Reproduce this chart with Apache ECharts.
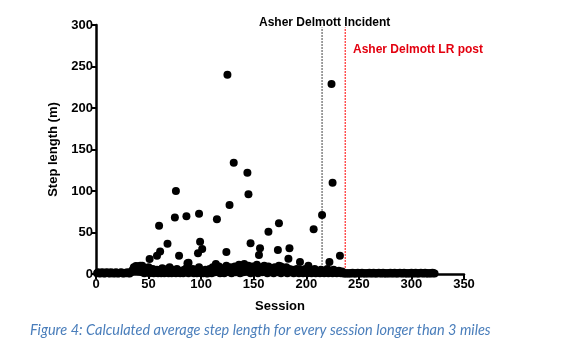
<!DOCTYPE html>
<html><head><meta charset="utf-8">
<script src="https://cdn.jsdelivr.net/npm/echarts@6/dist/echarts.min.js"></script>
<style>html,body{margin:0;padding:0;background:#fff}#c{width:575px;height:360px}</style>
</head><body><div id="c"></div>
<script>
// Baseline step length per session (session = index + 1)
var baseline = [
1,2,1,0.5,1.5,2,1,0.5,1,2,
1.5,1,0.5,2,1,1.5,0.5,1,2,1,
0.5,1,1.5,2,1,0.5,1,1.5,1,2,
1,0.5,2,3,5,8,6,4,9,7,
3,10,5,2,7,1,4,6,2,8,
1,3,2,6,1,4,2,5,1,3,
2,1,7,3,1,4,2,6,1,8,
3,1,5,2,4,1,6,2,3,1,
4,2,1,5,3,7,2,1,4,3,
2,6,1,3,5,1,2,8,4,1,
3,1,2,5,1,0.5,2,6,3,1,
8,4,2,12,6,3,9,1,5,2,
7,1,4,10,3,6,2,8,1,5,
4,9,2,6,3,11,1,7,5,2,
12,4,8,3,10,6,1,5,9,2,
6,3,11,1,7,4,8,2,5,10,
3,6,1,9,4,2,7,5,1,8,
3,6,2,10,4,1,7,3,5,2,
8,1,4,6,2,3,5,1,4,2,
6,3,1,5,2,4,1,3,6,2,
1,4,2,5,1,3,2,6,1,4,
2,3,1,5,2,4,1,3,2,6,
1,3,2,4,1,5,2,3,1,2,
4,2,1,3,1,0.5,1,0.5,1,0.5,
1,0.5,1,1.5,0.5,1,0.5,1,1.5,1,
0.5,1,1.5,0.5,1,0.5,1,1,0.5,1.5,
1,0.5,1,1.5,0.5,1,0.5,1,1.5,1,
0.5,1,1.5,0.5,1,0.5,1,1,0.5,1.5,
1,0.5,1,1.5,0.5,1,0.5,1,1.5,1,
0.5,1,1.5,0.5,1,0.5,1,1,0.5,1.5,
1,0.5,1,1.5,0.5,1,0.5,1,1.5,1,
0.5,1,1.5,0.5,1,0.5,1,1,0.5,1.5,
1,0.5
];
// Higher sessions [session, step length]
var highPoints = [
[38,9.6],[44,10],[51,18],[58,22],[60,58],[61,27],[68,36.5],[75,68],[76,100],[79,22],[86,69.5],[87,13],[88,13.6],
[97,25],[98,72.6],[99,39],[101,30],[115,66],[124,26.5],[125,240],[127,83],[131,134],[144,122],[145,96],[147,37],
[155,23],[156,31],[164,51],[173,29],[174,61],[176,9],[183,18.5],[184,31],[194,14.5],[202,10],[207,54],[215,71],
[222,14.5],[224,229],[225,110],[232,22]
];
var incidentSession = 215;
var lrPostSession = 237;
var lineTop = 297;
var xTicks = [0, 350, 50];
var yTicks = [0, 300, 50];

var basePoints = baseline.map(function(v, i){ return [i + 1, v]; });
var allPoints = basePoints.concat(highPoints);

var chart = echarts.init(document.getElementById('c'));
var FF = '"Liberation Sans", Arial, sans-serif';
var axisFont = {fontFamily:FF, fontWeight:'bold', fontSize:13, color:'#000'};
chart.setOption({
  animation:false,
  grid:{left:96, right:111, top:25, bottom:86},
  xAxis:{
    type:'value', min:xTicks[0], max:xTicks[1], interval:xTicks[2],
    name:'Session', nameLocation:'middle', nameGap:26,
    nameTextStyle:{fontFamily:FF, fontWeight:'bold', fontSize:13, color:'#000'},
    axisLine:{lineStyle:{color:'#000', width:2.5}},
    axisTick:{length:5, lineStyle:{color:'#000', width:2}},
    axisLabel:Object.assign({margin:4}, axisFont),
    splitLine:{show:false}
  },
  yAxis:{
    type:'value', min:yTicks[0], max:yTicks[1], interval:yTicks[2],
    name:'Step length (m)', nameLocation:'middle', nameGap:34,
    nameTextStyle:{fontFamily:FF, fontWeight:'bold', fontSize:13, color:'#000'},
    axisLine:{lineStyle:{color:'#000', width:2.5}},
    axisTick:{length:5, lineStyle:{color:'#000', width:2}},
    axisLabel:Object.assign({margin:3}, axisFont),
    splitLine:{show:false}
  },
  series:[{
    type:'line', data:[[incidentSession,0],[incidentSession,lineTop]], symbol:'none', silent:true, z:1,
    lineStyle:{color:'#444444', type:[2,1], width:1}
  },{
    type:'line', data:[[lrPostSession,0],[lrPostSession,lineTop]], symbol:'none', silent:true, z:1,
    lineStyle:{color:'#ff0000', type:[2,1], width:1}
  },{
    type:'scatter', data:allPoints, symbolSize:8, z:3,
    itemStyle:{color:'#000', opacity:1}
  }],
  graphic:[
    {type:'text', left:259, top:17, style:{text:'Asher Delmott Incident', font:'bold 12px "Liberation Sans", Arial', fill:'#000'}},
    {type:'text', left:353, top:44, style:{text:'Asher Delmott LR post', font:'bold 12px "Liberation Sans", Arial', fill:'#e3000f'}},
    {type:'text', left:30, top:323, style:{text:'Figure 4: Calculated average step length for every session longer than 3 miles', font:'italic 14.5px Lato', fill:'#4a7ebb'}}
  ]
});
</script></body></html>
